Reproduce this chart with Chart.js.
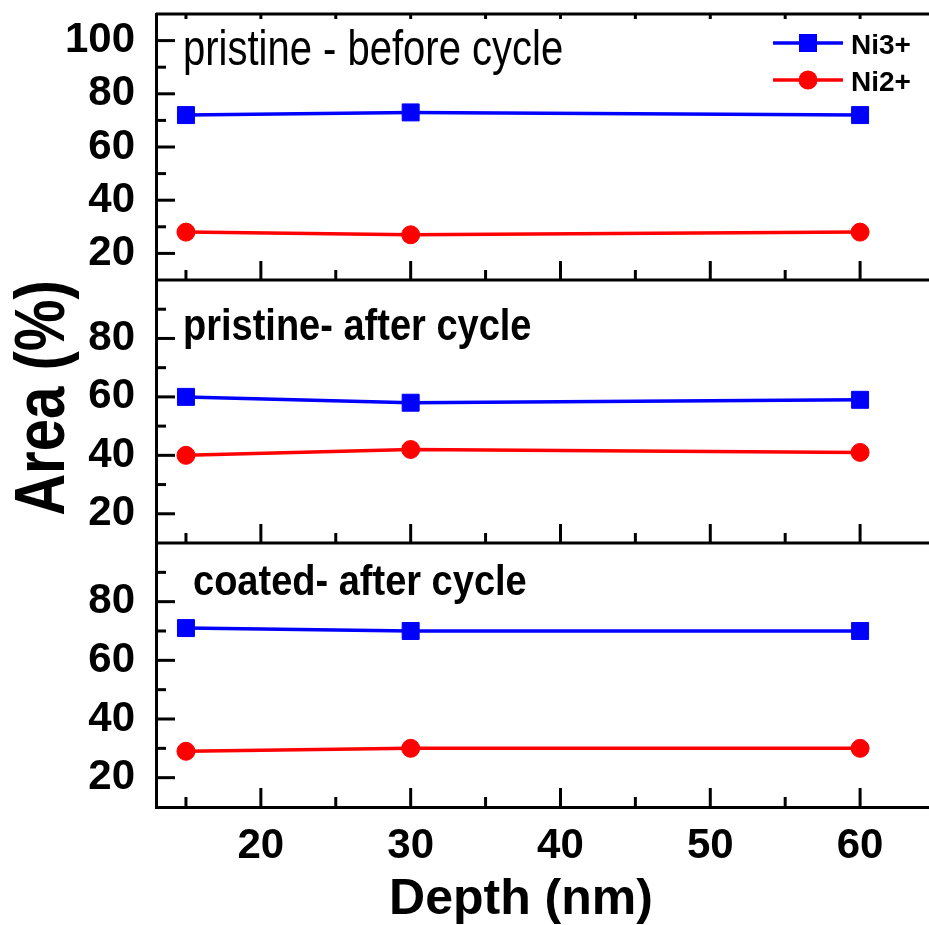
<!DOCTYPE html>
<html>
<head>
<meta charset="utf-8">
<script src="https://cdn.jsdelivr.net/npm/chart.js@4.4.1/dist/chart.umd.min.js"></script>
<style>
  body { margin: 0; background: #fff; }
  canvas { display: block; }
</style>
</head>
<body>
<canvas id="areaChart" width="929" height="925"></canvas>
<script>
// data
const depth = [15, 30, 60];
const panelLabels = ["pristine - before cycle", "pristine- after cycle", "coated- after cycle"];
const ni3Before = [72, 73, 72];
const ni2Before = [28, 27, 28];
const ni3After = [60, 58, 59];
const ni2After = [40, 42, 41];
const ni3Coated = [71, 70, 70];
const ni2Coated = [29, 30, 30];

const depthTicks = [20, 30, 40, 50, 60];
const depthMinor = [15, 25, 35, 45, 55];
const yTicksTop = [20, 40, 60, 80, 100];
const yTicksLower = [20, 40, 60, 80];

const BLUE = "#0000ff";
const RED = "#ff0000";
const FONT = "'Liberation Sans', Arial, sans-serif";

Chart.defaults.font.family = FONT;
Chart.defaults.color = "#000";

const panels = [
    { id: "y1", min: 10, max: 110, weight: 266, ticks: yTicksTop, ni3: ni3Before, ni2: ni2Before,
      label: { x: 183, y: 65, font: "normal 40px " + FONT, sy: 1.25 } },
    { id: "y2", min: 10, max: 100, weight: 263, ticks: yTicksLower, ni3: ni3After, ni2: ni2After,
      label: { x: 183, y: 340, font: "bold 38px " + FONT, sy: 1.15 } },
    { id: "y3", min: 10, max: 100, weight: 264, ticks: yTicksLower, ni3: ni3Coated, ni2: ni2Coated,
      label: { x: 193, y: 595, font: "bold 38px " + FONT, sy: 1.1 } },
];

const toPoints = (vals) => depth.map((d, i) => ({ x: d, y: vals[i] }));

const datasets = [];
panels.forEach((p) => {
    datasets.push({
        label: "Ni3+",
        data: toPoints(p.ni3),
        yAxisID: p.id,
        borderColor: BLUE,
        backgroundColor: BLUE,
        borderWidth: 3.5,
        pointStyle: "rect",
        pointRadius: 12,
        pointBorderWidth: 1,
    });
    datasets.push({
        label: "Ni2+",
        data: toPoints(p.ni2),
        yAxisID: p.id,
        borderColor: RED,
        backgroundColor: RED,
        borderWidth: 3.5,
        pointStyle: "circle",
        pointRadius: 9,
        pointBorderWidth: 1,
    });
});

const scales = {
    x: {
        type: "linear",
        min: 13,
        max: 64.6,
        afterBuildTicks: (s) => { s.ticks = depthTicks.map((v) => ({ value: v })); },
        afterFit: (s) => {
            s.height = 118;
            s.paddingLeft = 0;
            s.paddingRight = 0;
        },
        grid: { display: false, drawTicks: false },
        border: { display: true, width: 3, color: "#000" },
        // label offset comes from the line height instead of padding
        ticks: { padding: 0, autoSkip: false, maxRotation: 0, font: { size: 42, weight: "bold", lineHeight: 1.86 } },
    },
};
panels.forEach((p, i) => {
    scales[p.id] = {
        type: "linear",
        position: "left",
        stack: "area",
        stackWeight: p.weight,
        weight: 3 - i,
        min: p.min,
        max: p.max,
        afterBuildTicks: (s) => { s.ticks = p.ticks.map((v) => ({ value: v })); },
        afterFit: (s) => {
            s.width = 156;
            s.paddingTop = 0;
            s.paddingBottom = 0;
        },
        grid: { display: false, drawTicks: false },
        border: { display: true, width: 3, color: "#000" },
        ticks: { padding: 21, autoSkip: false, font: { size: 42, weight: "bold" } },
    };
});

function seg(ctx, x1, y1, x2, y2) {
    ctx.beginPath();
    ctx.moveTo(x1, y1);
    ctx.lineTo(x2, y2);
    ctx.stroke();
}

// panel frames and inward ticks
const frame = {
    id: "frame",
    beforeDatasetsDraw(chart) {
        const { ctx, chartArea: a } = chart;
        const x = chart.scales.x;
        ctx.save();
        ctx.strokeStyle = "#000";
        ctx.lineWidth = 3;
        panels.forEach((p, i) => {
            const y = chart.scales[p.id];
            seg(ctx, a.left, y.top, a.right, y.top);
            depthTicks.forEach((v) => {
                const px = x.getPixelForValue(v);
                seg(ctx, px, y.bottom, px, y.bottom - 19);
            });
            depthMinor.forEach((v) => {
                const px = x.getPixelForValue(v);
                seg(ctx, px, y.bottom, px, y.bottom - 10);
            });
            if (i === 0) {
                depthTicks.concat(depthMinor).forEach((v) => {
                    const px = x.getPixelForValue(v);
                    seg(ctx, px, y.top, px, y.top + 5);
                });
            }
            p.ticks.forEach((v) => {
                const py = y.getPixelForValue(v);
                seg(ctx, a.left, py, a.left + 19, py);
                const pm = y.getPixelForValue(v + 10);
                if (v + 10 < p.max) seg(ctx, a.left, pm, a.left + 10, pm);
            });
        });
        ctx.restore();
    },
    afterDraw(chart) {
        const { ctx } = chart;
        ctx.save();
        ctx.fillStyle = "#000";

        // panel captions
        panels.forEach((p, i) => {
            ctx.save();
            ctx.translate(p.label.x, p.label.y);
            ctx.scale(1, p.label.sy);
            ctx.font = p.label.font;
            ctx.textAlign = "left";
            ctx.textBaseline = "alphabetic";
            ctx.fillText(panelLabels[i], 0, 0);
            ctx.restore();
        });

        // axis titles
        ctx.font = "bold 50px " + FONT;
        ctx.textAlign = "center";
        ctx.textBaseline = "alphabetic";
        ctx.fillText("Depth (nm)", 521, 914);

        ctx.save();
        ctx.translate(64, 398);
        ctx.rotate(-Math.PI / 2);
        ctx.scale(0.83, 1);
        ctx.font = "bold 70px " + FONT;
        ctx.fillText("Area (%)", 0, 0);
        ctx.restore();

        // legend
        const items = [datasets[0], datasets[1]];
        items.forEach((ds, i) => {
            const ly = 43 + i * 37;
            ctx.strokeStyle = ds.borderColor;
            ctx.fillStyle = ds.backgroundColor;
            ctx.lineWidth = 3.5;
            seg(ctx, 773, ly, 843, ly);
            ctx.beginPath();
            if (ds.pointStyle === "rect") ctx.rect(799, ly - 9, 18, 18);
            else ctx.arc(808, ly, 9.5, 0, Math.PI * 2);
            ctx.fill();
            ctx.fillStyle = "#000";
            ctx.font = "bold 28px " + FONT;
            ctx.textAlign = "left";
            ctx.fillText(ds.label, 851, ly + 11);
        });
        ctx.restore();
    },
};

new Chart(document.getElementById("areaChart"), {
    type: "line",
    data: { datasets },
    options: {
        responsive: false,
        animation: false,
        layout: { autoPadding: false, padding: { top: 14, right: 0, left: 0, bottom: 0 } },
        plugins: { legend: { display: false }, tooltip: { enabled: false } },
        scales,
    },
    plugins: [frame],
});
</script>
</body>
</html>
